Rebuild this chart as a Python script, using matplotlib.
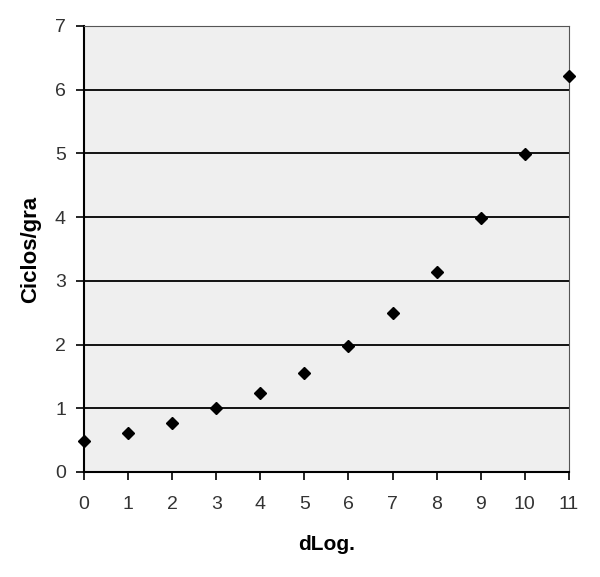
import matplotlib
matplotlib.use('Agg')
import matplotlib.pyplot as plt

# values
dlog = [0, 1, 2, 3, 4, 5, 6, 7, 8, 9, 10, 11]
ciclos = [0.49, 0.61, 0.77, 1.01, 1.24, 1.56, 1.98, 2.49, 3.14, 3.98, 4.99, 6.22]
xticks = list(range(0, 12))
yticks = list(range(0, 8))

plt.rcParams['font.family'] = ['Liberation Sans', 'DejaVu Sans']

fig = plt.figure(figsize=(6, 5.77), dpi=100)
ax = fig.add_axes([0.14, 0.182, 0.808, 0.773])
ax.set_facecolor('#efefef')

for y in yticks[1:-1]:
    ax.axhline(y, color='black', lw=1.3, zorder=1)

ax.plot(dlog, ciclos, 'D', color='black', markersize=6.5, clip_on=False, zorder=3)

ax.set_xlim(0, 11)
ax.set_ylim(0, 7)
ax.set_xticks(xticks)
ax.set_yticks(yticks)
ax.tick_params(direction='out', length=6, width=1.2, colors='black',
               labelsize=14, labelcolor='#333333', pad=7)
ax.tick_params(axis='x', pad=11)

ax.spines['left'].set_linewidth(1.5)
ax.spines['bottom'].set_linewidth(1.5)
ax.spines['top'].set_color('#555555')
ax.spines['right'].set_color('#555555')

ax.set_xlabel('dLog.', fontsize=15, fontweight='bold', labelpad=16)
ax.set_ylabel('Ciclos/gra', fontsize=16, fontweight='bold', labelpad=10)

fig.savefig('out.png', dpi=100)
